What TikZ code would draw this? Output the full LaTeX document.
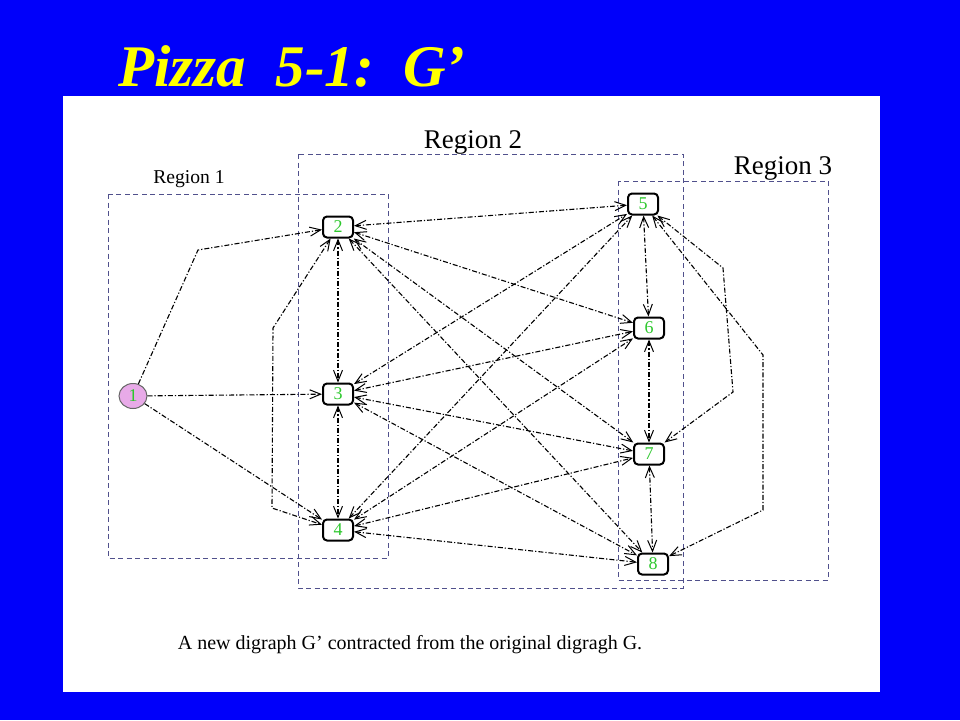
\documentclass[tikz,border=0pt]{standalone}
\usepackage{fontspec}
\setmainfont{Liberation Serif}
\usetikzlibrary{arrows.meta,shapes.geometric}
\definecolor{bgblue}{RGB}{0,0,250}
\definecolor{ttl}{RGB}{255,255,0}
\definecolor{regc}{RGB}{80,80,140}
\definecolor{numg}{RGB}{45,200,45}
\definecolor{pinkf}{RGB}{232,170,232}
\begin{document}
\begin{tikzpicture}[x=1pt,y=-1pt,
  vbox/.style={draw=black, line width=2pt, rounded corners=4pt, fill=white,
    minimum width=30pt, minimum height=21pt, inner sep=0pt, text=numg,
    font=\fontsize{18}{18}\selectfont},
  srcnode/.style={ellipse, draw=gray!80!black, line width=1pt, fill=pinkf, minimum width=28pt,
    minimum height=25pt, inner sep=0pt, text=numg, font=\fontsize{18}{18}\selectfont},
  region/.style={draw=regc, line width=1pt, dash pattern=on 5pt off 3.5pt},
  edge/.style={draw=black, line width=1.1pt, dash pattern=on 5pt off 2pt on 1.2pt off 2pt},
  tip/.style={edge, -{Straight Barb[length=11pt,width=9pt,line width=1pt]}},
  bi/.style={edge, {Straight Barb[length=11pt,width=9pt,line width=1pt]}-{Straight Barb[length=11pt,width=9pt,line width=1pt]}},
  reglab/.style={font=\fontsize{27}{27}\selectfont, inner sep=0pt}]
% background
\fill[bgblue] (0,0) rectangle (960,720);
\fill[white] (63,96) rectangle (880,692);
% title
\node[anchor=base west, text=ttl, inner sep=0pt,
  font=\fontsize{59}{59}\selectfont\bfseries\itshape] (title) at (118,86) {Pizza\ \ 5-1:\ \ G’};
% regions
\draw[region] (108,194) rectangle (388,558);
\draw[region] (298,154) rectangle (683,588);
\draw[region] (618,181) rectangle (828,580);
\node[font=\fontsize{19.6}{19.6}\selectfont, inner sep=0pt] (r1) at (189,179) {Region 1};
\node[reglab] (r2) at (473,142) {Region 2};
\node[reglab] (r3) at (783,168) {Region 3};
% nodes
\node[srcnode] (n1) at (133,396) {1};
\node[vbox] (n2) at (338,227) {2};
\node[vbox] (n3) at (338,394) {3};
\node[vbox] (n4) at (338,530) {4};
\node[vbox] (n5) at (643,204) {5};
\node[vbox] (n6) at (649,328) {6};
\node[vbox] (n7) at (649,454) {7};
\node[vbox] (n8) at (653,564) {8};
% bends
\coordinate (b12) at (198,250);
\coordinate (b24a) at (273,328);
\coordinate (b24b) at (272,508);
\coordinate (b57a) at (723,268);
\coordinate (b57b) at (733,392);
\coordinate (b58a) at (763,355);
\coordinate (b58b) at (763,510);
% edges from 1
\draw[tip] (n1) -- (b12) -- (n2);
\draw[tip] (n1) -- (n3);
\draw[tip] (n1) -- (n4);
% within region 2
\draw[bi] (n2) -- (n3);
\draw[bi] (n3) -- (n4);
\draw[bi] (n2) -- (b24a) -- (b24b) -- (n4);
% within region 3
\draw[bi] (n5) -- (n6);
\draw[bi] (n6) -- (n7);
\draw[bi] (n7) -- (n8);
\draw[bi] (n5) -- (b57a) -- (b57b) -- (n7);
\draw[bi] (n5) -- (b58a) -- (b58b) -- (n8);
% between regions 2 and 3
\foreach \a in {n2,n3,n4}{
  \foreach \b in {n5,n6,n7,n8}{
    \draw[bi] (\a) -- (\b);
  }
}
% caption
\node[font=\fontsize{20}{20}\selectfont, inner sep=0pt] (cap) at (410,645)
  {A new digraph G’ contracted from the original digragh G.};
\end{tikzpicture}
\end{document}
